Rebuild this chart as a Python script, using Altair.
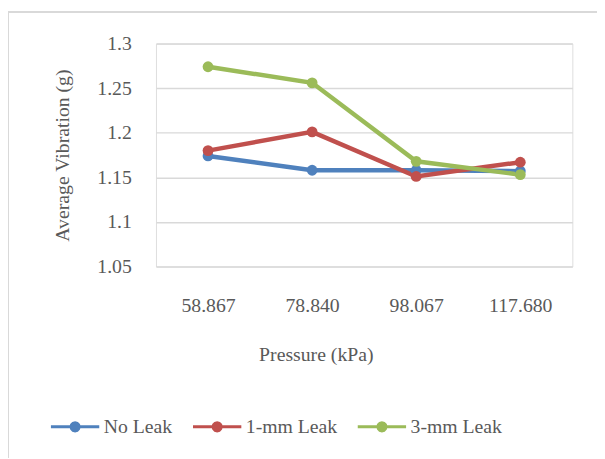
import altair as alt
import pandas as pd

pressures = ["58.867", "78.840", "98.067", "117.680"]
series_names = ["No Leak", "1-mm Leak", "3-mm Leak"]
no_leak = [1.174, 1.158, 1.158, 1.157]
leak_1mm = [1.180, 1.201, 1.151, 1.167]
leak_3mm = [1.274, 1.256, 1.168, 1.153]
y_ticks = [1.05, 1.1, 1.15, 1.2, 1.25, 1.3]
colors = ["#4F81BD", "#C0504D", "#9BBB59"]

rows = []
for name, vals in zip(series_names, [no_leak, leak_1mm, leak_3mm]):
    for p, v in zip(pressures, vals):
        rows.append({"Pressure": p, "Series": name, "Value": v})
df = pd.DataFrame(rows)

FONT = "'Liberation Serif', 'Times New Roman', Times, serif"
TXT = "#595959"
GRID = "#D9D9D9"

# legend glyph: horizontal line with a small filled 12-gon marker in the middle
sym_path = ("M-1,0H1"
            "M0.17,0L0.147,0.085L0.085,0.147L0,0.17L-0.085,0.147L-0.147,0.085"
            "L-0.17,0L-0.147,-0.085L-0.085,-0.147L0,-0.17L0.085,-0.147L0.147,-0.085Z")

x_enc = alt.X("Pressure:N", sort=pressures, scale=alt.Scale(paddingInner=0, paddingOuter=0),
              axis=alt.Axis(title="Pressure (kPa)", labelAngle=0, ticks=False, domain=False,
                            grid=False, labelPadding=30, labelFontSize=20, labelFont=FONT,
                            labelColor=TXT, titleFont=FONT, titleFontSize=20, titleColor=TXT,
                            titleFontWeight="normal", titleX=162, titleY=89,
                            titleBaseline="middle", titleAlign="center"))
y_enc = alt.Y("Value:Q", scale=alt.Scale(domain=[1.05, 1.3], nice=False, zero=False),
              axis=alt.Axis(title="Average Vibration (g)", values=y_ticks, format="~g",
                            ticks=False, domain=False, gridColor=GRID, gridWidth=1.5,
                            labelPadding=25, labelFontSize=20, labelFont=FONT, labelColor=TXT,
                            titleFont=FONT, titleFontSize=20, titleColor=TXT,
                            titleFontWeight="normal", titleX=-95, titleY=113,
                            titleBaseline="middle", titleAlign="center", titleAngle=-90))
color_enc = alt.Color("Series:N", sort=series_names,
                      scale=alt.Scale(domain=series_names, range=colors),
                      legend=alt.Legend(title=None, orient="none", direction="horizontal",
                                        legendX=-108, legendY=362, symbolType=sym_path,
                                        symbolSize=2401, symbolStrokeWidth=3,
                                        labelFont=FONT, labelFontSize=20, labelColor=TXT,
                                        labelOffset=3, columnPadding=14))

lines = alt.Chart(df).mark_line(strokeWidth=4.5, point=alt.OverlayMarkDef(filled=True, size=120)).encode(
    x=x_enc, y=y_enc, color=color_enc
)

frame_top = alt.Chart(df).mark_rule(color=GRID, strokeWidth=2).encode(
    x=alt.value(-150), x2=alt.value(447), y=alt.value(-32)
)
frame_left = alt.Chart(df).mark_rule(color=GRID, strokeWidth=2).encode(
    x=alt.value(-150), y=alt.value(-32), y2=alt.value(420)
)

chart = alt.layer(frame_top, frame_left, lines).properties(
    width=422, height=226,
    autosize=alt.AutoSizeParams(type="none"),
    padding={"left": 150, "top": 33, "right": 25, "bottom": 192},
).configure_view(stroke=None).configure(background="white", font=FONT)

chart.save("out.html", embed_options={"renderer": "svg", "actions": False})
